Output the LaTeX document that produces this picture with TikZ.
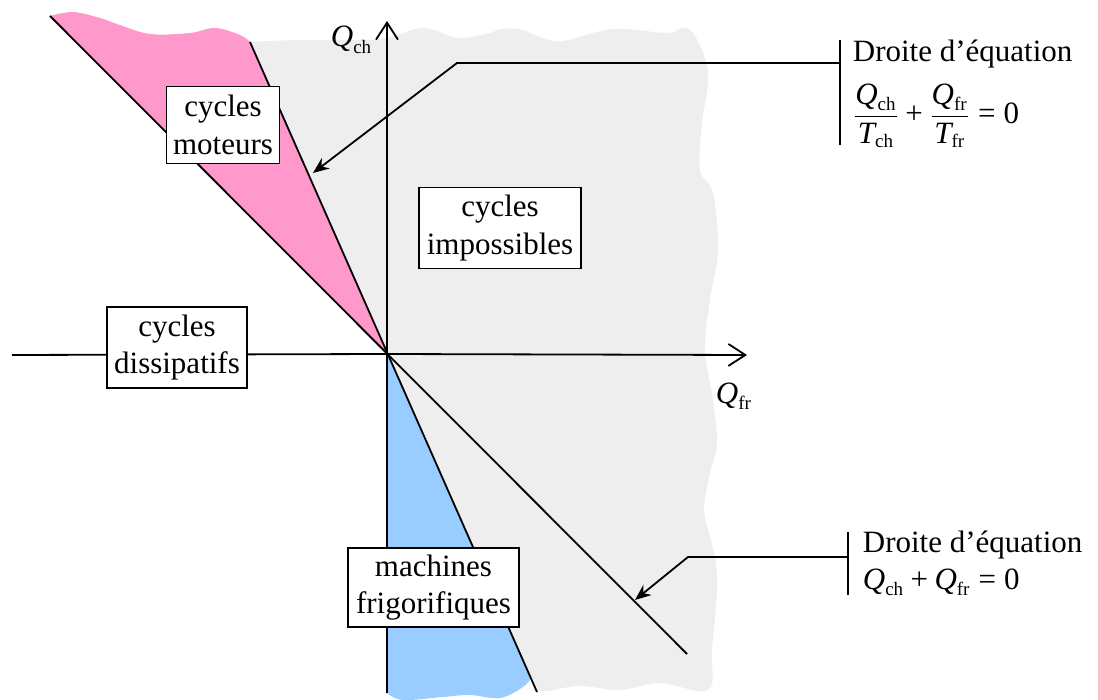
\documentclass[tikz,border=0pt]{standalone}
\usepackage{fontspec}
\setmainfont{Liberation Serif}
\usetikzlibrary{arrows.meta}
\definecolor{rosec}{RGB}{255,153,204}
\definecolor{bleuc}{RGB}{153,204,255}
\definecolor{grisc}{RGB}{238,238,238}
\newcommand{\myQ}[1]{\mbox{\itshape Q}_{\mbox{\fontsize{9.5}{10}\selectfont #1}}}
\newcommand{\myT}[1]{\mbox{\itshape T}_{\mbox{\fontsize{9.5}{10}\selectfont #1}}}
\newcommand{\myplus}{\mathbin{\mbox{+}}}
\newcommand{\myeq}{\mathrel{\mbox{=}}}
\begin{document}
\begin{tikzpicture}[x=0.5pt,y=-0.5pt,line width=0.9pt,
  every node/.style={font=\fontsize{15.5}{18.9}\selectfont},
  boxn/.style={draw,fill=white,align=center,inner sep=1pt,line width=0.9pt},
  lbl/.style={anchor=base west,inner sep=0pt},
  axisarrow/.style={-{Straight Barb[length=8.5pt,width=11pt]}},
  leader/.style={-{Stealth[length=8pt,width=6.5pt]}}]
\useasboundingbox (0,0) rectangle (1098,700);
% regions
\fill[grisc] plot[smooth,tension=0.6] coordinates {(250,42) (300,40) (380,39) (423,28) (458,38) (490,33) (500,29) (520,29) (540,37) (563,41) (613,29) (667,33) (682,28) (693,33) (705,58) (708,83) (702,123) (700,170) (713,193) (718,250) (710,300) (705,350) (713,400) (717,443) (710,473) (705,500) (705,517) (717,573) (712,650) (708,690) (660,683) (620,690) (580,686) (547,691) (537,690)} -- (387,354) -- cycle;
\fill[rosec] plot[smooth,tension=0.6] coordinates {(50,16) (73,12) (100,18) (117,24) (150,34) (190,33) (215,28) (240,35) (250,42)} -- (387,354) -- cycle;
\fill[bleuc] (387,354) -- plot[smooth,tension=0.6] coordinates {(387,693) (403,700) (443,697) (470,695) (500,698) (523,687) (531,678)} -- cycle;
% coordinates
\coordinate (O) at (387,354);
\coordinate (xl) at (12,355);
\coordinate (xr) at (747,355);
\coordinate (yb) at (387,693);
\coordinate (yt) at (387,21);
\coordinate (s1) at (250,42);
\coordinate (s2) at (537,692);
\coordinate (d1) at (50,16);
\coordinate (d2) at (687,654);
% lines
\draw (s1) -- (s2);
\draw (d1) -- (d2);
\draw (xl) -- (O);
\draw[axisarrow] (O) -- (xr);
\draw[axisarrow] (yb) -- (yt);
% labels of axes
\node[lbl] (qch) at (330,47) {$\myQ{ch}$};
\node[lbl] (qfr) at (715,403) {$\myQ{fr}$};
% boxes
\node[boxn,minimum width=56.5pt,minimum height=38.5pt] (mot) at (223,125) {cycles\\moteurs};
\node[boxn,minimum width=81pt,minimum height=40.5pt] (imp) at (500,228) {cycles\\impossibles};
\node[boxn,minimum width=70pt,minimum height=40.5pt] (dis) at (177,347.5) {cycles\\dissipatifs};
\node[boxn,minimum width=85.5pt,minimum height=39.5pt] (fri) at (433.5,587.5) {machines\\frigorifiques};
% top annotation
\coordinate (b1t) at (840,40);
\coordinate (b1b) at (840,145);
\coordinate (b1m) at (840,63);
\coordinate (k1) at (457,63);
\coordinate (a1) at (313,173);
\draw (b1t) -- (b1b);
\draw[leader] (b1m) -- (k1) -- (a1);
\node[lbl] (t1) at (852,62) {Droite d’équation};
\node[anchor=west,inner sep=0pt] (e1) at (852,116) {$\displaystyle\frac{\myQ{ch}}{\myT{ch}}\myplus\frac{\myQ{fr}}{\myT{fr}}\myeq\mbox{0}$};
% bottom annotation
\coordinate (b2t) at (848,532);
\coordinate (b2b) at (848,595);
\coordinate (b2m) at (848,557);
\coordinate (k2) at (688,557);
\coordinate (a2) at (635,600);
\draw (b2t) -- (b2b);
\draw[leader] (b2m) -- (k2) -- (a2);
\node[lbl] (t2) at (862,552) {Droite d’équation};
\node[lbl] (e2) at (862,589) {$\myQ{ch}\myplus\myQ{fr}\myeq\mbox{0}$};
\end{tikzpicture}
\end{document}
